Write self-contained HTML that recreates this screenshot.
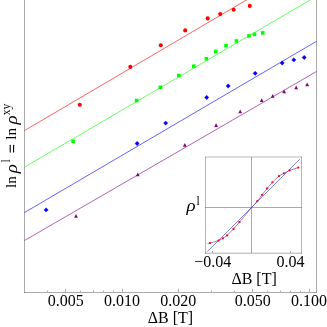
<!DOCTYPE html>
<html><head><meta charset="utf-8"><style>
html,body{margin:0;padding:0;background:#fff;}
svg{display:block;will-change:transform;opacity:0.999;}
text{font-family:"Liberation Serif",serif;fill:#000;}
</style></head><body>
<svg width="327" height="327" viewBox="0 0 327 327">


<g fill="#555" fill-opacity="0.5" shape-rendering="crispEdges">
<rect x="24" y="0" width="1" height="293"/>
<rect x="316" y="0" width="1" height="293"/>
<rect x="24" y="292" width="293" height="1"/>
</g>
<g fill="#555" fill-opacity="0.45">
<rect x="65" y="288.8" width="1" height="3.2"/>
<rect x="122" y="288.8" width="1" height="3.2"/>
<rect x="178" y="288.8" width="1" height="3.2"/>
<rect x="252" y="288.8" width="1" height="3.2"/>
<rect x="309" y="288.8" width="1" height="3.2"/>
<rect x="47" y="290.5" width="1" height="1.5"/>
<rect x="80" y="290.5" width="1" height="1.5"/>
<rect x="93" y="290.5" width="1" height="1.5"/>
<rect x="103" y="290.5" width="1" height="1.5"/>
<rect x="113" y="290.5" width="1" height="1.5"/>
<rect x="211" y="290.5" width="1" height="1.5"/>
<rect x="234" y="290.5" width="1" height="1.5"/>
<rect x="267" y="290.5" width="1" height="1.5"/>
<rect x="280" y="290.5" width="1" height="1.5"/>
<rect x="290" y="290.5" width="1" height="1.5"/>
<rect x="300" y="290.5" width="1" height="1.5"/>
</g>
<line x1="24.5" y1="130.6" x2="316.5" y2="-41.27" stroke="#ff0000" stroke-width="0.62"/>
<line x1="24.5" y1="167.2" x2="316.5" y2="-3.74" stroke="#00ff00" stroke-width="0.62"/>
<line x1="24.5" y1="212.5" x2="316.5" y2="41.30" stroke="#0000ff" stroke-width="0.62"/>
<line x1="24.5" y1="240.5" x2="316.5" y2="71.49" stroke="#800080" stroke-width="0.62"/>
<circle cx="79.8" cy="104.8" r="2.05" fill="#ff0000"/>
<circle cx="130.3" cy="66.9" r="2.05" fill="#ff0000"/>
<circle cx="160.8" cy="45.3" r="2.05" fill="#ff0000"/>
<circle cx="185.2" cy="30.4" r="2.05" fill="#ff0000"/>
<circle cx="207.7" cy="18.4" r="2.05" fill="#ff0000"/>
<circle cx="220.2" cy="14.1" r="2.05" fill="#ff0000"/>
<circle cx="233.7" cy="9.7" r="2.05" fill="#ff0000"/>
<circle cx="249.8" cy="5.9" r="2.05" fill="#ff0000"/>
<rect x="71.3" y="139.6" width="3.6" height="3.6" fill="#00ff00"/>
<rect x="134.79999999999998" y="98.8" width="3.6" height="3.6" fill="#00ff00"/>
<rect x="158.6" y="85.5" width="3.6" height="3.6" fill="#00ff00"/>
<rect x="177.0" y="73.7" width="3.6" height="3.6" fill="#00ff00"/>
<rect x="192.0" y="64.4" width="3.6" height="3.6" fill="#00ff00"/>
<rect x="204.6" y="56.900000000000006" width="3.6" height="3.6" fill="#00ff00"/>
<rect x="214.0" y="49.7" width="3.6" height="3.6" fill="#00ff00"/>
<rect x="224.2" y="43.800000000000004" width="3.6" height="3.6" fill="#00ff00"/>
<rect x="234.6" y="39.2" width="3.6" height="3.6" fill="#00ff00"/>
<rect x="247.1" y="34.1" width="3.6" height="3.6" fill="#00ff00"/>
<rect x="252.7" y="32.5" width="3.6" height="3.6" fill="#00ff00"/>
<rect x="260.9" y="31.099999999999998" width="3.6" height="3.6" fill="#00ff00"/>
<path d="M43.95 209.9L46.1 207.75L48.25 209.9L46.1 212.05Z" fill="#0000ff" stroke="#0000ff" stroke-width="0.4" stroke-linejoin="round"/>
<path d="M134.95 143.5L137.1 141.35L139.25 143.5L137.1 145.65Z" fill="#0000ff" stroke="#0000ff" stroke-width="0.4" stroke-linejoin="round"/>
<path d="M163.54999999999998 123.1L165.7 120.94999999999999L167.85 123.1L165.7 125.25Z" fill="#0000ff" stroke="#0000ff" stroke-width="0.4" stroke-linejoin="round"/>
<path d="M204.54999999999998 97.5L206.7 95.35L208.85 97.5L206.7 99.65Z" fill="#0000ff" stroke="#0000ff" stroke-width="0.4" stroke-linejoin="round"/>
<path d="M226.04999999999998 86L228.2 83.85L230.35 86L228.2 88.15Z" fill="#0000ff" stroke="#0000ff" stroke-width="0.4" stroke-linejoin="round"/>
<path d="M253.04999999999998 73.3L255.2 71.14999999999999L257.34999999999997 73.3L255.2 75.45Z" fill="#0000ff" stroke="#0000ff" stroke-width="0.4" stroke-linejoin="round"/>
<path d="M280.05 63L282.2 60.85L284.34999999999997 63L282.2 65.15Z" fill="#0000ff" stroke="#0000ff" stroke-width="0.4" stroke-linejoin="round"/>
<path d="M291.65000000000003 59.9L293.8 57.75L295.95 59.9L293.8 62.05Z" fill="#0000ff" stroke="#0000ff" stroke-width="0.4" stroke-linejoin="round"/>
<path d="M302.05 57.5L304.2 55.35L306.34999999999997 57.5L304.2 59.65Z" fill="#0000ff" stroke="#0000ff" stroke-width="0.4" stroke-linejoin="round"/>
<path d="M74.1 217.8L76 214.1L77.9 217.8Z" fill="#800080"/>
<path d="M135.9 176.3L137.8 172.6L139.70000000000002 176.3Z" fill="#800080"/>
<path d="M182.9 146.8L184.8 143.1L186.70000000000002 146.8Z" fill="#800080"/>
<path d="M214.2 127.0L216.1 123.3L218.0 127.0Z" fill="#800080"/>
<path d="M238.29999999999998 113.2L240.2 109.5L242.1 113.2Z" fill="#800080"/>
<path d="M259.8 101.89999999999999L261.7 98.19999999999999L263.59999999999997 101.89999999999999Z" fill="#800080"/>
<path d="M270.8 97.8L272.7 94.1L274.59999999999997 97.8Z" fill="#800080"/>
<path d="M282.20000000000005 93.3L284.1 89.6L286.0 93.3Z" fill="#800080"/>
<path d="M294.3 89.2L296.2 85.5L298.09999999999997 89.2Z" fill="#800080"/>
<path d="M305.3 86.2L307.2 82.5L309.09999999999997 86.2Z" fill="#800080"/>
<text x="65.71" y="306.3" font-size="16" text-anchor="middle">0.005</text>
<text x="122.00" y="306.3" font-size="16" text-anchor="middle">0.010</text>
<text x="178.29" y="306.3" font-size="16" text-anchor="middle">0.020</text>
<text x="252.71" y="306.3" font-size="16" text-anchor="middle">0.050</text>
<text x="309.00" y="306.3" font-size="16" text-anchor="middle">0.100</text>
<text x="170.4" y="322.6" font-size="16" text-anchor="middle">ΔB [T]</text>
<g stroke="#000" stroke-width="1.1" stroke-linecap="round"><line x1="10.2" y1="145.2" x2="10.2" y2="152.1"/><line x1="13.6" y1="145.2" x2="13.6" y2="152.1"/></g>
<text transform="translate(16,188.0) rotate(-90)" font-size="15">ln</text>
<text transform="translate(16.8,173.2) rotate(-90) scale(1.15,1)" font-size="16.5" font-style="italic">ρ</text>
<text transform="translate(9.5,162.6) rotate(-90)" font-size="11.8">l</text>
<text transform="translate(16,139.7) rotate(-90)" font-size="15">ln</text>
<text transform="translate(16.8,124.6) rotate(-90) scale(1.15,1)" font-size="16.5" font-style="italic">ρ</text>
<text transform="translate(10.2,115.2) rotate(-90)" font-size="11.5">xy</text>
<rect x="205.5" y="156.5" width="96" height="96" fill="#fff" stroke="none"/>
<g fill="#555" shape-rendering="crispEdges">
<rect x="205" y="156" width="97" height="2" fill-opacity="0.21"/>
<rect x="205" y="157" width="1" height="96.6" fill-opacity="0.44"/>
<rect x="301" y="157" width="1" height="96.6" fill-opacity="0.44"/>
<rect x="205" y="252" width="97" height="1" fill-opacity="0.15"/>
<rect x="205" y="253" width="97" height="1" fill-opacity="0.32"/>
<rect x="251" y="157" width="1" height="96" fill-opacity="0.5"/>
<rect x="205" y="207" width="97" height="1" fill-opacity="0.5"/>
</g>
<g fill="#555" fill-opacity="0.55">
<rect x="212" y="250.8" width="1" height="2"/><rect x="290" y="250.8" width="1" height="2"/>
</g>
<path d="M207.5 243.5 L210 243.1 L218.5 240.6 L222.9 238.39999999999998 L227.1 235.39999999999998 L233.5 229.0 L239.4 222.2 L251.5 207.7 L257.3 201.2 L262.1 194.79999999999998 L267.1 188.5 L272.4 182.29999999999998 L279 176.1 L283.9 173.29999999999998 L289.6 170.39999999999998 L298.3 167.6" fill="none" stroke="#902070" stroke-width="0.6"/>
<line x1="207.3" y1="251.7" x2="299.9" y2="159.1" stroke="#4040b8" stroke-width="0.65"/>
<circle cx="210" cy="243.1" r="1.15" fill="#f01020"/>
<circle cx="218.5" cy="240.6" r="1.15" fill="#f01020"/>
<circle cx="222.9" cy="238.39999999999998" r="1.15" fill="#f01020"/>
<circle cx="227.1" cy="235.39999999999998" r="1.15" fill="#f01020"/>
<circle cx="233.5" cy="229.0" r="1.15" fill="#f01020"/>
<circle cx="239.4" cy="222.2" r="1.15" fill="#f01020"/>
<circle cx="257.3" cy="201.2" r="1.15" fill="#f01020"/>
<circle cx="262.1" cy="194.79999999999998" r="1.15" fill="#f01020"/>
<circle cx="267.1" cy="188.5" r="1.15" fill="#f01020"/>
<circle cx="272.4" cy="182.29999999999998" r="1.15" fill="#f01020"/>
<circle cx="279" cy="176.1" r="1.15" fill="#f01020"/>
<circle cx="283.9" cy="173.29999999999998" r="1.15" fill="#f01020"/>
<circle cx="289.6" cy="170.39999999999998" r="1.15" fill="#f01020"/>
<circle cx="298.3" cy="167.6" r="1.15" fill="#f01020"/>
<text x="212.7" y="267.2" font-size="16" text-anchor="middle">−0.04</text>
<text x="290.5" y="267.2" font-size="16" text-anchor="middle">0.04</text>
<text x="254.1" y="284" font-size="16" text-anchor="middle">ΔB [T]</text>
<text transform="translate(186.6,210.6) scale(1.15,1)" font-size="16.5" font-style="italic">ρ</text>
<text x="196.55" y="205" font-size="11.6">l</text>
</svg></body></html>
